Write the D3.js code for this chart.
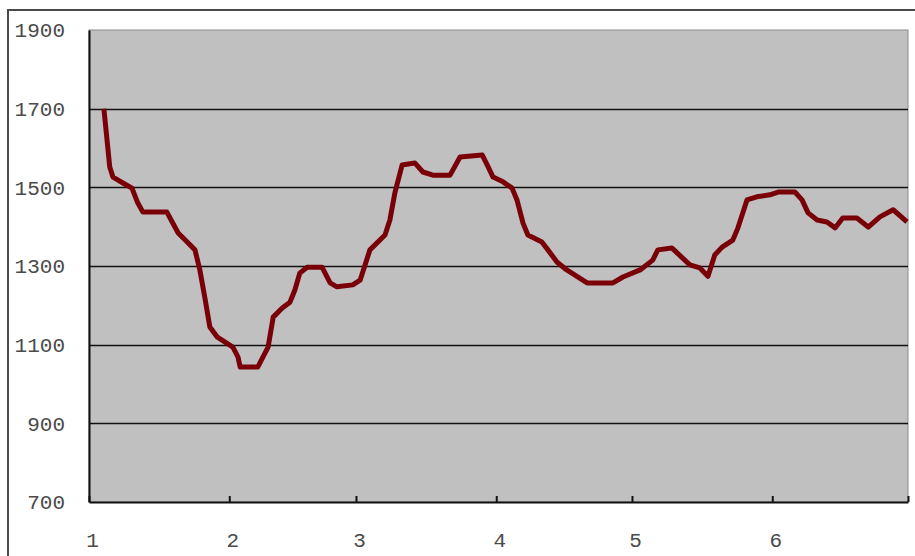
<!DOCTYPE html>
<html>
<head>
<meta charset="utf-8">
<script src="https://cdn.jsdelivr.net/npm/d3@7"></script>
<style>
  html, body { margin: 0; padding: 0; background: #fff; }
  svg { display: block; }
  .tick text { font-family: "Liberation Mono", monospace; font-size: 21px; fill: #4a4a4a; }
</style>
</head>
<body>
<script>
// Days elapsed since 1 January, and the reading taken on that day
const days = [3.3, 4.6, 5.3, 7.5, 9.5, 10.8, 11.9, 17.2, 19.7, 21.7, 23.4, 24.5, 25.6, 26.7, 28.3,
  31.8, 32.9, 33.4, 37.3, 39.6, 40.7, 42.7, 44.4, 45.5, 46.6, 48.2, 51.5, 53.3, 54.8, 58.3, 59.9,
  62.1, 65.4, 66.5, 67.6, 69.2, 72.0, 73.8, 76.0, 79.8, 82.0, 86.9, 88.0, 89.3, 91.5, 93.5, 94.6,
  95.9, 97.0, 100.1, 101.4, 103.4, 105.6, 110.1, 115.8, 118.0, 121.8, 124.6, 125.7, 128.8, 132.8,
  135.0, 136.8, 138.3, 139.9, 142.3, 143.4, 145.4, 147.6, 150.5, 152.3, 156.0, 157.6, 158.9, 160.9,
  163.1, 164.9, 166.6, 169.7, 172.2, 174.8, 177.7, 180.8];
const values = [1700, 1552, 1526, 1511, 1498, 1460, 1437, 1437, 1384, 1361, 1341, 1290, 1221, 1145, 1120,
  1094, 1069, 1043, 1043, 1094, 1170, 1193, 1208, 1239, 1282, 1297, 1297, 1257, 1247, 1252, 1264,
  1341, 1379, 1417, 1485, 1557, 1562, 1539, 1531, 1531, 1577, 1582, 1557, 1526, 1514, 1498, 1468,
  1409, 1379, 1361, 1341, 1310, 1290, 1257, 1257, 1272, 1290, 1315, 1341, 1346, 1303,
  1295, 1274, 1328, 1348, 1366, 1397, 1468, 1476, 1481, 1488, 1488, 1468, 1435, 1417,
  1412, 1397, 1422, 1422, 1399, 1425, 1443, 1412];
const yTicks = [700, 900, 1100, 1300, 1500, 1700, 1900];
const gridValues = [900, 1100, 1300, 1500, 1700];
const monthLabels = ["1", "2", "3", "4", "5", "6", ""];

const W = 915, H = 556;
const plot = { left: 89, top: 30, right: 908, bottom: 502 };

const start = new Date(2009, 0, 1);
const end = new Date(2009, 6, 1);
const monthStarts = d3.timeMonth.range(start, d3.timeDay.offset(end, 1));

const x = d3.scaleTime().domain([start, end]).range([plot.left, plot.right]);
const y = d3.scaleLinear().domain([700, 1900]).range([plot.bottom, plot.top]);

const svg = d3.select("body").append("svg").attr("width", W).attr("height", H);

// chart frame
svg.append("rect")
  .attr("x", 8).attr("y", 10).attr("width", W + 10).attr("height", H + 10)
  .attr("fill", "#fff").attr("stroke", "#4a4a4a").attr("stroke-width", 2);

// plot area
svg.append("rect")
  .attr("x", plot.left).attr("y", plot.top)
  .attr("width", plot.right - plot.left).attr("height", plot.bottom - plot.top)
  .attr("fill", "#c0c0c0").attr("stroke", "#8c8c8c").attr("stroke-width", 1);

// horizontal gridlines
svg.append("g").selectAll("line").data(gridValues).join("line")
  .attr("x1", plot.left).attr("x2", plot.right)
  .attr("y1", d => Math.round(y(d)) + 0.5).attr("y2", d => Math.round(y(d)) + 0.5)
  .attr("stroke", "#111").attr("stroke-width", 1.5);

// value axis
const yAxis = svg.append("g")
  .attr("transform", `translate(${plot.left},0)`)
  .call(d3.axisLeft(y).tickValues(yTicks).tickSize(0).tickPadding(24).tickFormat(d3.format("d")));
yAxis.select(".domain").attr("stroke", "#111").attr("stroke-width", 2);

// month axis
const xAxis = svg.append("g")
  .attr("transform", `translate(0,${plot.bottom})`)
  .call(d3.axisBottom(x).tickValues(monthStarts).tickSizeInner(-6).tickSizeOuter(0)
    .tickPadding(30).tickFormat((d, i) => monthLabels[i]));
xAxis.select(".domain").attr("stroke", "#111").attr("stroke-width", 2);
xAxis.selectAll(".tick line").attr("stroke", "#111").attr("stroke-width", 2);
xAxis.selectAll(".tick text").attr("dx", 3);

// series line
const points = days.map((d, i) => ({ date: d3.timeHour.offset(start, Math.round(d * 24)), v: values[i] }));
const line = d3.line().x(p => x(p.date)).y(p => y(p.v));
svg.append("path")
  .datum(points)
  .attr("d", line)
  .attr("fill", "none")
  .attr("stroke", "#7a0008")
  .attr("stroke-width", 5)
  .attr("stroke-linejoin", "round");
</script>
</body>
</html>
